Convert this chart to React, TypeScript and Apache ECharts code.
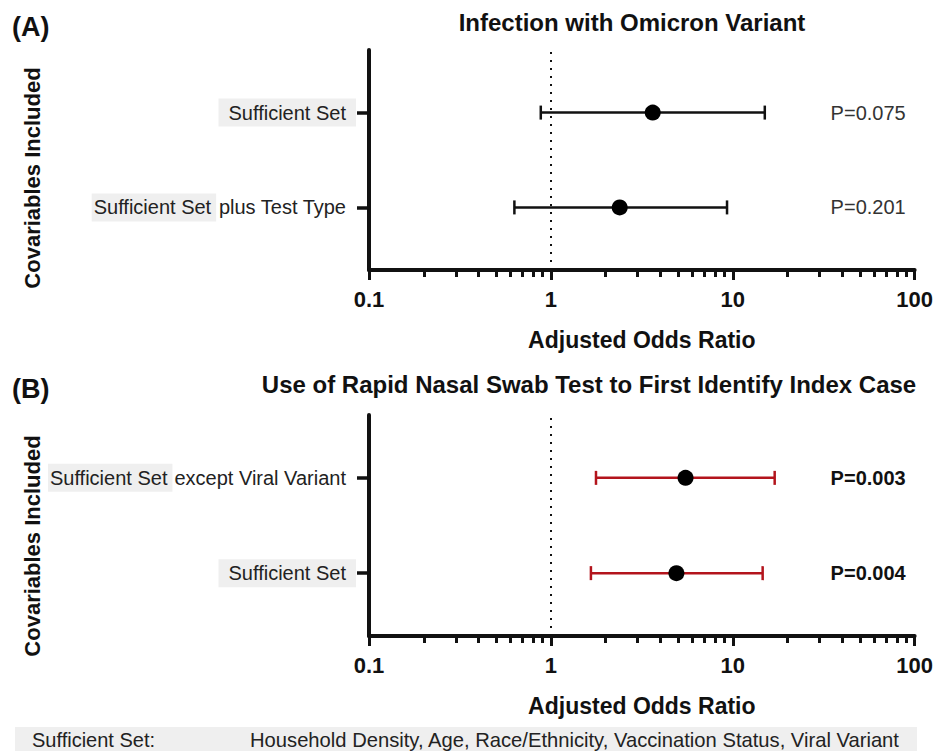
import React, { useEffect, useRef } from "react";
import * as echarts from "echarts";

// ---------- data ----------
const panelATitle = "Infection with Omicron Variant";
const panelACategories = ["Sufficient Set", "Sufficient Set plus Test Type"]; // top to bottom
const panelAOddsRatio = [3.63, 2.39];
const panelALower = [0.88, 0.63];
const panelAUpper = [15.0, 9.3];
const panelAPValues = ["P=0.075", "P=0.201"];

const panelBTitle = "Use of Rapid Nasal Swab Test to First Identify Index Case";
const panelBCategories = ["Sufficient Set except Viral Variant", "Sufficient Set"];
const panelBOddsRatio = [5.5, 4.9];
const panelBLower = [1.77, 1.66];
const panelBUpper = [17.0, 14.6];
const panelBPValues = ["P=0.003", "P=0.004"];

const xMajorTicks = [0.1, 1, 10, 100];
const xMinorTicks = [
  0.2, 0.3, 0.4, 0.5, 0.6, 0.7, 0.8, 0.9,
  2, 3, 4, 5, 6, 7, 8, 9,
  20, 30, 40, 50, 60, 70, 80, 90,
];
const referenceValue = 1;
const highlightTerm = "Sufficient Set";
const footerLabel = "Sufficient Set:";
const footerText = "Household Density, Age, Race/Ethnicity, Vaccination Status, Viral Variant";

const FONT = "'Liberation Sans', Arial, Helvetica, sans-serif";
const INK = "#111";

function labelRich(name: string) {
  if (name.startsWith(highlightTerm)) {
    const rest = name.slice(highlightTerm.length).trim();
    if (!rest) return `{hl|${highlightTerm}}`;
    return `{hl2|${highlightTerm}}{n|${rest}}`;
  }
  return `{n|${name}}`;
}

function buildPanel(
  idx: number,
  cats: string[],
  or: number[],
  lo: number[],
  hi: number[],
  pv: string[],
  barColor: string,
  boldP: boolean
) {
  const n = cats.length;
  const rowY = cats.map((_, i) => n - 1 - i);
  const barData = cats.map((_, i) => [or[i], rowY[i], lo[i], hi[i], i]);
  const dotData = cats.map((_, i) => [or[i], rowY[i]]);

  const xMain = {
    type: "log",
    logBase: 10,
    gridIndex: idx,
    min: 0.1,
    max: 100,
    position: "bottom",
    name: "Adjusted Odds Ratio",
    nameLocation: "middle",
    nameGap: 58,
    nameTextStyle: { fontFamily: FONT, fontWeight: "bold", fontSize: 23, color: INK },
    axisLine: { show: true, onZero: false, lineStyle: { color: INK, width: 4 } },
    axisTick: { show: true, customValues: xMajorTicks, length: 10, lineStyle: { color: INK, width: 3 } },
    axisLabel: {
      customValues: xMajorTicks,
      margin: 18,
      fontFamily: FONT,
      fontWeight: "bold",
      fontSize: 22,
      color: INK,
      formatter: (v: number) => String(v),
    },
    splitLine: { show: false },
    minorTick: { show: false },
  };
  const xMinor = {
    type: "log",
    logBase: 10,
    gridIndex: idx,
    min: 0.1,
    max: 100,
    position: "bottom",
    axisLine: { show: false, onZero: false },
    axisTick: { show: true, customValues: xMinorTicks, length: 7, lineStyle: { color: INK, width: 3 } },
    axisLabel: { show: false },
    splitLine: { show: false },
  };
  const yAxis = {
    type: "value",
    gridIndex: idx,
    min: -0.66,
    max: 1.66,
    axisLine: { show: true, onZero: false, lineStyle: { color: INK, width: 4 } },
    axisTick: { show: true, customValues: rowY, length: 12, lineStyle: { color: INK, width: 3.5 } },
    axisLabel: {
      customValues: rowY,
      margin: 13,
      formatter: (v: number) => labelRich(cats[n - 1 - Math.round(v)] ?? ""),
      rich: {
        hl: {
          fontFamily: FONT,
          fontSize: 20,
          color: "#222",
          backgroundColor: "#efefef",
          padding: [4, 10, 4, 10],
        },
        hl2: {
          fontFamily: FONT,
          fontSize: 20,
          color: "#222",
          backgroundColor: "#efefef",
          padding: [4, 5, 4, 2],
        },
        n: { fontFamily: FONT, fontSize: 20, color: "#222", padding: [4, 10, 4, 2] },
      },
    },
    splitLine: { show: false },
  };

  const series = [
    {
      type: "custom",
      xAxisIndex: idx * 2,
      yAxisIndex: idx,
      data: barData,
      encode: { x: 0, y: 1 },
      z: 2,
      renderItem: (params: any, api: any) => {
        const y = api.value(1);
        const pL = api.coord([api.value(2), y]);
        const pH = api.coord([api.value(3), y]);
        const i = api.value(4);
        const cs = params.coordSys;
        const cap = 7;
        const ls = { stroke: barColor, lineWidth: 2.5 };
        return {
          type: "group",
          children: [
            { type: "line", shape: { x1: pL[0], y1: pL[1], x2: pH[0], y2: pH[1] }, style: ls },
            { type: "line", shape: { x1: pL[0], y1: pL[1] - cap, x2: pL[0], y2: pL[1] + cap }, style: ls },
            { type: "line", shape: { x1: pH[0], y1: pH[1] - cap, x2: pH[0], y2: pH[1] + cap }, style: ls },
            {
              type: "text",
              x: cs.x + cs.width * 0.846,
              y: pL[1],
              style: {
                text: pv[i],
                fontFamily: FONT,
                fontSize: 20,
                fontWeight: boldP ? "bold" : "normal",
                fill: boldP ? INK : "#333",
                verticalAlign: "middle",
              },
            },
          ],
        };
      },
    },
    {
      type: "scatter",
      xAxisIndex: idx * 2,
      yAxisIndex: idx,
      data: dotData,
      symbol: "circle",
      symbolSize: 16,
      itemStyle: { color: "#000", opacity: 1 },
      z: 3,
      markLine: {
        silent: true,
        symbol: "none",
        label: { show: false },
        lineStyle: { color: "#111", type: [2, 6], width: 2, opacity: 1 },
        data: [{ xAxis: referenceValue }],
      },
    },
  ];
  return { xAxes: [xMain, xMinor], yAxis, series };
}

export default function App() {
  const ref = useRef<HTMLDivElement>(null);
  useEffect(() => {
    document.body.style.margin = "0";
    if (!ref.current) return;
    const chart = echarts.init(ref.current, null, { renderer: "svg" });
    const a = buildPanel(0, panelACategories, panelAOddsRatio, panelALower, panelAUpper, panelAPValues, "#111", false);
    const b = buildPanel(1, panelBCategories, panelBOddsRatio, panelBLower, panelBUpper, panelBPValues, "#b3141c", true);

    const headingStyle = { fontFamily: FONT, fontWeight: "bold", fill: INK };
    chart.setOption({
      animation: false,
      backgroundColor: "#fff",
      grid: [
        { left: 369, top: 50, width: 546, height: 220 },
        { left: 369, top: 415, width: 546, height: 221 },
      ],
      xAxis: [...a.xAxes, ...b.xAxes],
      yAxis: [a.yAxis, b.yAxis],
      series: [...a.series, ...b.series],
      graphic: [
        { type: "text", x: 12, y: 27, style: { ...headingStyle, text: "(A)", fontSize: 27, verticalAlign: "middle" } },
        { type: "text", x: 12, y: 389, style: { ...headingStyle, text: "(B)", fontSize: 27, verticalAlign: "middle" } },
        {
          type: "text",
          x: 632,
          y: 22,
          style: { ...headingStyle, text: panelATitle, fontSize: 24, align: "center", verticalAlign: "middle" },
        },
        {
          type: "text",
          x: 589,
          y: 384,
          style: { ...headingStyle, text: panelBTitle, fontSize: 24, align: "center", verticalAlign: "middle" },
        },
        {
          type: "text",
          x: 32,
          y: 178,
          rotation: Math.PI / 2,
          style: { ...headingStyle, text: "Covariables Included", fontSize: 22, align: "center", verticalAlign: "middle" },
        },
        {
          type: "text",
          x: 32,
          y: 546,
          rotation: Math.PI / 2,
          style: { ...headingStyle, text: "Covariables Included", fontSize: 22, align: "center", verticalAlign: "middle" },
        },
        {
          type: "rect",
          shape: { x: 15, y: 727, width: 902, height: 26 },
          style: { fill: "#efefef" },
          z: 0,
        },
        {
          type: "text",
          x: 32,
          y: 740,
          style: { text: footerLabel, fontFamily: FONT, fontSize: 20, fill: "#222", verticalAlign: "middle" },
          z: 1,
        },
        {
          type: "text",
          x: 250,
          y: 740,
          style: { text: footerText, fontFamily: FONT, fontSize: 20.2, fill: "#222", verticalAlign: "middle" },
          z: 1,
        },
      ],
    });
    return () => chart.dispose();
  }, []);
  return <div ref={ref} style={{ width: 936, height: 751 }} />;
}
